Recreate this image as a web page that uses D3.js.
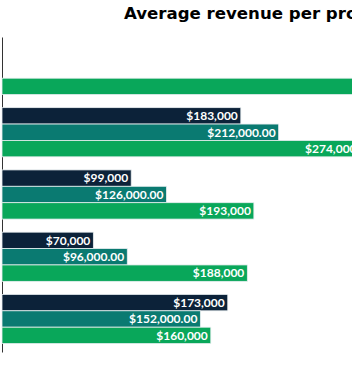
<!DOCTYPE html>
<html>
<head>
<meta charset="utf-8">
<script src="https://cdnjs.cloudflare.com/ajax/libs/d3/7.8.5/d3.min.js"></script>
<style>
  body { margin: 0; background: #fff; overflow: hidden; }
  .title { font-family: "DejaVu Sans", sans-serif; font-weight: 700; font-size: 16.6px; fill: #000; }
  .lbl { font-family: Lato, "Open Sans", sans-serif; font-weight: 700; font-size: 12px; fill: #fff; }
</style>
</head>
<body>
<div id="chart"></div>
<script>
  // groups (top to bottom) and series
  var categories = ["Group 1", "Group 2", "Group 3", "Group 4", "Group 5"];
  var seriesNames = ["Series 1", "Series 2", "Series 3"];
  var series1 = [null, 183000, 99000, 70000, 173000];
  var series2 = [null, 212000, 126000, 96000, 152000];
  var series3 = [340000, 274000, 193000, 188000, 160000];
  var labelFormats = ["$,.0f", "$,.2f", "$,.0f"];
  var colors = ["#0c2239", "#0a7a71", "#09a75a"];

  var width = 352, height = 388;

  var svg = d3.select("#chart").append("svg")
      .attr("width", width)
      .attr("height", height);

  svg.append("text")
      .attr("class", "title")
      .attr("x", 124)
      .attr("y", 18.5)
      .text("Average revenue per product");

  var data = categories.map(function(c, i) {
    return { cat: c, values: [series1[i], series2[i], series3[i]] };
  });

  ////// Scales //////
  var xScale = d3.scaleLinear()
      .domain([0, 300000])
      .range([2, 2 + 1.305 * 300]);

  var yScale = d3.scaleBand()
      .domain(categories)
      .range([37, 352])
      .paddingInner(0.21)
      .paddingOuter(0.135);

  var ySub = d3.scaleBand()
      .domain(seriesNames)
      .range([0, yScale.bandwidth()]);

  ////// Axis (domain line only) //////
  var yAxis = d3.axisLeft(yScale).tickSize(0).tickFormat("");
  var gy = svg.append("g")
      .attr("transform", "translate(2,0)")
      .call(yAxis);
  gy.select(".domain").attr("stroke", "#333").attr("stroke-width", 1);

  ////// Bars //////
  var groups = svg.append("g").selectAll(".grp")
      .data(data)
      .enter()
      .append("g")
      .attr("class", "grp")
      .attr("transform", function(d) { return "translate(0," + yScale(d.cat) + ")"; });

  var cells = groups.selectAll(".cell")
      .data(function(d) {
        return d.values.map(function(v, j) { return { v: v, j: j }; })
          .filter(function(e) { return e.v != null; });
      })
      .enter()
      .append("g")
      .attr("class", "cell");

  cells.append("rect")
      .attr("x", xScale(0))
      .attr("y", function(d) { return ySub(seriesNames[d.j]); })
      .attr("width", function(d) { return xScale(d.v) - xScale(0); })
      .attr("height", ySub.bandwidth())
      .attr("fill", function(d) { return colors[d.j]; })
      .attr("stroke", "#e8eef0")
      .attr("stroke-width", 0.8);

  cells.append("text")
      .attr("class", "lbl")
      .attr("x", function(d) { return xScale(d.v) - 3; })
      .attr("y", function(d) { return ySub(seriesNames[d.j]) + ySub.bandwidth() / 2; })
      .attr("dy", "0.36em")
      .attr("text-anchor", "end")
      .text(function(d) { return d3.format(labelFormats[d.j])(d.v); });
</script>
</body>
</html>
